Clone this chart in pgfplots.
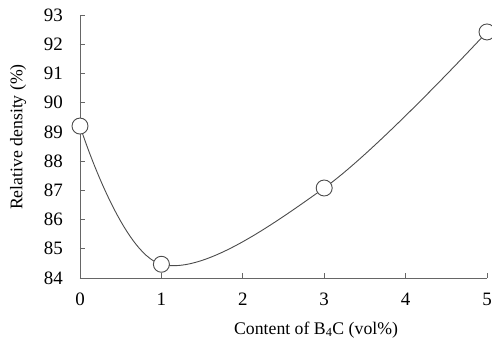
\documentclass[border=0pt]{standalone}
\usepackage{pgfplots}
\pgfplotsset{compat=1.18}
\usepackage{fontspec}
\setmainfont{Liberation Serif}
\begin{document}
\fontsize{17.8}{20}\selectfont
\begin{tikzpicture}
\begin{axis}[
  scale only axis,
  width=407bp, height=263bp,
  xmin=0, xmax=5, ymin=84, ymax=93,
  axis lines=left,
  axis line style={gray!80!black, line width=0.8bp, -},
  tick style={gray!80!black, line width=0.8bp},
  tick align=inside,
  major tick length=5bp,
  xtick={0,1,2,3,4,5},
  ytick={84,85,...,93},
  tick label style={font=\fontsize{19}{22}\selectfont},
  xticklabel style={yshift=-9bp},
  yticklabel style={xshift=-11bp},
  clip=false,
  /pgf/number format/assume math mode=true,
  xlabel={Content of B\textsubscript{4}C (vol\%)},
  ylabel={Relative density (\%)},
  xlabel style={at={(axis description cs:0.58,0)}, anchor=center, yshift=-52bp},
  ylabel style={at={(axis description cs:-0.1523,0.536)}, anchor=center, rotate=0},
]
\addplot[gray!60!black, line width=0.9bp, smooth, tension=0.6, mark=*, mark size=8bp,
  mark options={fill=white, draw=gray!60!black, line width=0.9bp}]
  coordinates {(0,89.2) (1,84.47) (3,87.08) (5,92.42)};
\end{axis}
\pgfresetboundingbox
\path (-80bp,-71bp) rectangle (412bp,278bp);
\end{tikzpicture}
\end{document}
